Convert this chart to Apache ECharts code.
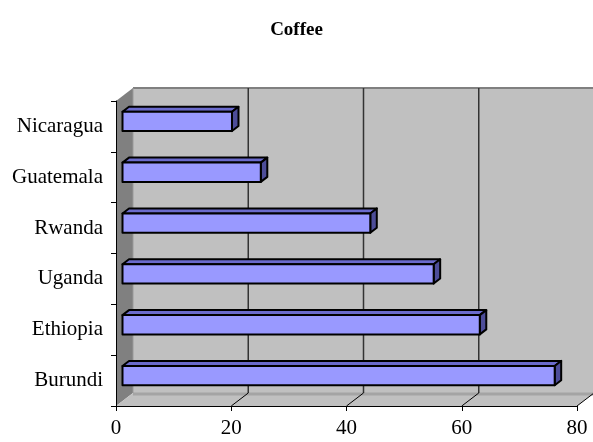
<!DOCTYPE html>
<html>
<head>
<meta charset="utf-8">
<script src="https://cdn.jsdelivr.net/npm/echarts@6/dist/echarts.min.js"></script>
<style>
  html, body { margin: 0; padding: 0; background: #ffffff; }
  #chart { width: 593px; height: 442px; }
</style>
</head>
<body>
<div id="chart"></div>
<script>
// Coffee figures per producer (bottom to top on the category axis)
const categories = ['Burundi', 'Ethiopia', 'Uganda', 'Rwanda', 'Guatemala', 'Nicaragua'];
const values = [75, 62, 54, 43, 24, 19];
const xTicks = [0, 20, 40, 60, 80];

// Pseudo-3D geometry: offset of the back wall, and depth slice used by the bars
const DEPTH = [17, -13];
const BAR_FRONT = [6.5, -5];
const BAR_BACK = [13, -10];
const SERIF = '"Liberation Serif", "Times New Roman", serif';

function line(x1, y1, x2, y2, stroke, width) {
  return { type: 'line', shape: { x1, y1, x2, y2 }, style: { stroke, lineWidth: width } };
}

// Back wall, side wall, floor and their gridlines
function renderWalls(params, api) {
  const cs = params.coordSys;
  const L = cs.x, R = cs.x + cs.width, T = cs.y, B = cs.y + cs.height;
  const dx = DEPTH[0], dy = DEPTH[1];
  const children = [
    { type: 'polygon', shape: { points: [[L + dx, T + dy], [R + dx, T + dy], [R + dx, B + dy], [L + dx, B + dy]] },
      style: { fill: '#c0c0c0' } },
    { type: 'polygon', shape: { points: [[L, T], [L + dx, T + dy], [L + dx, B + dy], [L, B]] },
      style: { fill: '#808080' } },
    { type: 'polygon', shape: { points: [[L, B], [R, B], [R + dx, B + dy], [L + dx, B + dy]] },
      style: { fill: '#c0c0c0' } },
    line(L + dx, T + dy, R + dx, T + dy, '#808080', 2),
    line(L + dx, B + dy + 1, R + dx, B + dy + 1, '#a4a4a4', 3),
    line(L + dx, T + dy, L + dx, B + dy, '#999999', 1)
  ];
  xTicks.slice(1).forEach(function (v) {
    const x = api.coord([v, 0])[0];
    children.push(line(x + dx, T + dy, x + dx, B + dy, '#333333', 1.5));
    children.push(line(x, B, x + dx, B + dy, '#000000', 1));
  });
  return { type: 'group', children };
}

// One box-shaped bar per category
function renderBar(params, api) {
  const v = api.value(0), c = api.value(1);
  const start = api.coord([0, c]);
  const end = api.coord([v, c]);
  const h = api.size([0, 1])[1] * 0.38;
  const bx = BAR_BACK[0] - BAR_FRONT[0], by = BAR_BACK[1] - BAR_FRONT[1];
  const x0 = start[0] + BAR_FRONT[0], x1 = end[0] + BAR_FRONT[0];
  const yT = start[1] + BAR_FRONT[1] - h / 2, yB = yT + h;
  const edge = { stroke: '#000000', lineWidth: 2, lineJoin: 'round' };
  return {
    type: 'group',
    children: [
      { type: 'polygon', shape: { points: [[x0, yT], [x1, yT], [x1 + bx, yT + by], [x0 + bx, yT + by]] },
        style: Object.assign({ fill: '#6b6bcc' }, edge) },
      { type: 'polygon', shape: { points: [[x1, yT], [x1 + bx, yT + by], [x1 + bx, yB + by], [x1, yB]] },
        style: Object.assign({ fill: '#4d4d99' }, edge) },
      { type: 'rect', shape: { x: x0, y: yT, width: x1 - x0, height: h },
        style: Object.assign({ fill: '#9999ff' }, edge) }
    ]
  };
}

const chart = echarts.init(document.getElementById('chart'), null, { renderer: 'canvas' });
chart.setOption({
  animation: false,
  backgroundColor: '#ffffff',
  title: {
    text: 'Coffee',
    left: 'center',
    top: 16,
    textStyle: { fontFamily: SERIF, fontWeight: 'bold', fontSize: 19, color: '#000000' }
  },
  grid: { left: 116, right: 16, top: 101, bottom: 36, outerBoundsMode: 'none' },
  xAxis: {
    type: 'value',
    min: xTicks[0],
    max: xTicks[xTicks.length - 1],
    interval: 20,
    z: 5,
    axisLine: { show: true, lineStyle: { color: '#000000', width: 1 } },
    axisTick: { show: true, length: 5, lineStyle: { color: '#000000' } },
    splitLine: { show: false },
    axisLabel: { fontFamily: SERIF, fontSize: 21, color: '#000000', margin: 12 }
  },
  yAxis: {
    type: 'category',
    data: categories,
    z: 5,
    axisLine: { show: true, lineStyle: { color: '#000000', width: 1 } },
    axisTick: { show: true, length: 5, lineStyle: { color: '#000000' } },
    splitLine: { show: false },
    axisLabel: { fontFamily: SERIF, fontSize: 21, color: '#000000', margin: 13 }
  },
  series: [
    {
      type: 'custom',
      z: 1,
      silent: true,
      renderItem: renderWalls,
      data: [[0, 0]],
      encode: { x: 0, y: 1 }
    },
    {
      type: 'custom',
      z: 3,
      renderItem: renderBar,
      data: values.map(function (v, i) { return [v, categories[i]]; }),
      encode: { x: 0, y: 1 }
    }
  ]
});
</script>
</body>
</html>
